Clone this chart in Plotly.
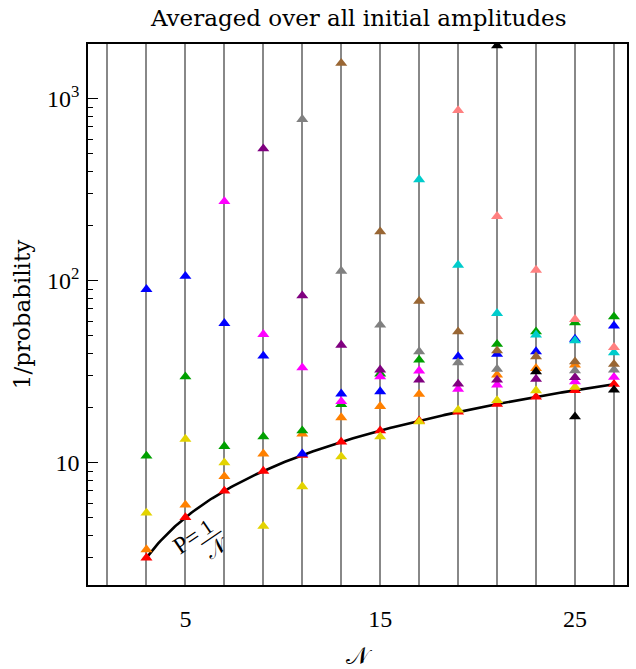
import numpy as np
import plotly.graph_objects as go

# ---------------- data ----------------
N_vals = [3, 5, 7, 9, 11, 13, 15, 17, 19, 21, 23, 25, 27]

red     = [3, 5, 7, 9, 11, 13, 15, 17, 19, 21, 23, 25, 27]
orange  = [3.33, 5.86, 8.4, 11.2, 14.4, 17.7, 20.4, 23.8, None, 30.4, 33.0, 34.5, None]
yellow  = [5.3, 13.5, 10.0, 4.48, 7.4, 10.8, 13.9, 16.8, 19.5, 22.0, 24.9, 26.0, None]
green   = [10.9, 29.7, 12.3, 13.9, 15.0, 20.9, 30.8, 36.7, None, 44.8, 52.5, 58.9, 63.5]
blue    = [89.7, 106, 58.4, 38.6, 11.2, 23.9, 24.6, None, 38.3, 39.5, 40.8, 47.8, 56.5]
magenta = [None, None, 273, 50.8, 33.3, 21.7, 29.7, 32.0, 25.4, 26.8, None, 27.9, 29.5]
purple  = [None, None, None, 532, 82.8, 44.3, 32.4, 28.5, 27.1, 28.5, 28.8, 29.4, None]
gray    = [None, None, None, None, 771, 113, 57.2, 40.8, 35.5, 32.7, None, 32.1, 32.4]
brown   = [None, None, None, None, None, 1570, 186, 77.2, 52.5, 41.3, 38.3, 35.9, 34.8]
cyan    = [None, None, None, None, None, None, None, 360, 122, 66.2, 50.4, 46.9, 40.3]
pink    = [None, None, None, None, None, None, None, None, 863, 226, 114.5, 61.4, 43.1]
black   = [None, None, None, None, None, None, None, None, None, 1960, 31.7, 17.9, 25.1]

series = [
    ("red", red, "#FF0000"),
    ("orange", orange, "#FF8000"),
    ("yellow", yellow, "#E3D300"),
    ("green", green, "#00A000"),
    ("blue", blue, "#0000FF"),
    ("magenta", magenta, "#FF00FF"),
    ("purple", purple, "#800080"),
    ("gray", gray, "#808080"),
    ("brown", brown, "#996633"),
    ("cyan", cyan, "#00CCCC"),
    ("pink", pink, "#FF8080"),
    ("black", black, "#000000"),
]

x_tick_vals = [5, 15, 25]
x_tick_text = ["5", "15", "25"]
grid_lines = list(range(1, 28, 2))

y_tick_vals = [10, 100, 1000]
y_tick_text = ["10", "10<sup>2</sup>", "10<sup>3</sup>"]

# theoretical curve 1/P = N
curve_n = np.linspace(3, 27, 200)
curve_inv_p = curve_n

SERIF = "DejaVu Serif"
NUMF = "Liberation Serif"

fig = go.Figure()

fig.add_trace(go.Scatter(x=curve_n, y=curve_inv_p, mode="lines",
                         line=dict(color="black", width=2.6), showlegend=False,
                         hoverinfo="skip"))

for name, vals, col in series:
    fig.add_trace(go.Scatter(x=N_vals, y=vals, mode="markers", name=name,
                             marker=dict(symbol="triangle-up", size=10.5, color=col,
                                         line=dict(width=0)),
                             showlegend=False))

ANG = -34
fig.add_annotation(x=5.05, y=0.572, xref="x", yref="y", text="P=",
                   showarrow=False, textangle=ANG, font=dict(family=NUMF, size=24, color="black"))
fig.add_annotation(x=6.08, y=0.648, xref="x", yref="y", text="1",
                   showarrow=False, textangle=ANG, font=dict(family=NUMF, size=21, color="black"))
fig.add_annotation(x=6.25, y=0.597, xref="x", yref="y", text="—",
                   showarrow=False, textangle=ANG, font=dict(family=NUMF, size=24, color="black"))
fig.add_annotation(x=6.62, y=0.532, xref="x", yref="y", text="𝒩",
                   showarrow=False, textangle=ANG, font=dict(family=NUMF, size=21, color="black"))

fig.update_layout(
    width=636, height=669,
    margin=dict(l=87.5, r=9, t=43.5, b=83.5, autoexpand=False),
    paper_bgcolor="white", plot_bgcolor="white",
    title=dict(text="Averaged over all initial amplitudes", x=0.564, xanchor="center",
               y=1 - 18 / 669, yanchor="middle",
               font=dict(family=SERIF, size=23, color="black")),
    font=dict(family=SERIF, color="black"),
)

fig.update_xaxes(
    range=[0, 27.67],
    tickvals=x_tick_vals, ticktext=x_tick_text,
    showgrid=True, gridcolor="#888888", gridwidth=1.5,
    minor=dict(tickvals=grid_lines, showgrid=True, gridcolor="#888888", gridwidth=1.5, ticks=""),
    zeroline=False, automargin=False,
    showline=True, linecolor="black", linewidth=1.5, mirror=True,
    ticks="", ticklabelstandoff=11,
    tickfont=dict(family=NUMF, size=24, color="black"),
    title=dict(text="𝒩", font=dict(family=NUMF, size=24, color="black"), standoff=18),
)

fig.update_yaxes(
    type="log",
    range=[0.328, 3.301],
    tickvals=y_tick_vals, ticktext=y_tick_text,
    showgrid=False, zeroline=False, automargin=False,
    showline=True, linecolor="black", linewidth=1.5, mirror=True,
    ticks="inside", ticklen=10, tickwidth=1.2, tickcolor="black",
    minor=dict(ticks="inside", ticklen=5, tickwidth=1, tickcolor="black",
               tickvals=[3, 4, 5, 6, 7, 8, 9, 20, 30, 40, 50, 60, 70, 80, 90,
                         200, 300, 400, 500, 600, 700, 800, 900]),
    ticklabelstandoff=2,
    tickfont=dict(family=NUMF, size=24, color="black"),
    title=dict(text="1/probability", font=dict(family=SERIF, size=23, color="black"), standoff=10),
)

fig.write_html("out.html", config={"displayModeBar": False},
               post_script="document.body.style.margin='0px';document.body.style.padding='0px';document.body.style.overflow='hidden';")
